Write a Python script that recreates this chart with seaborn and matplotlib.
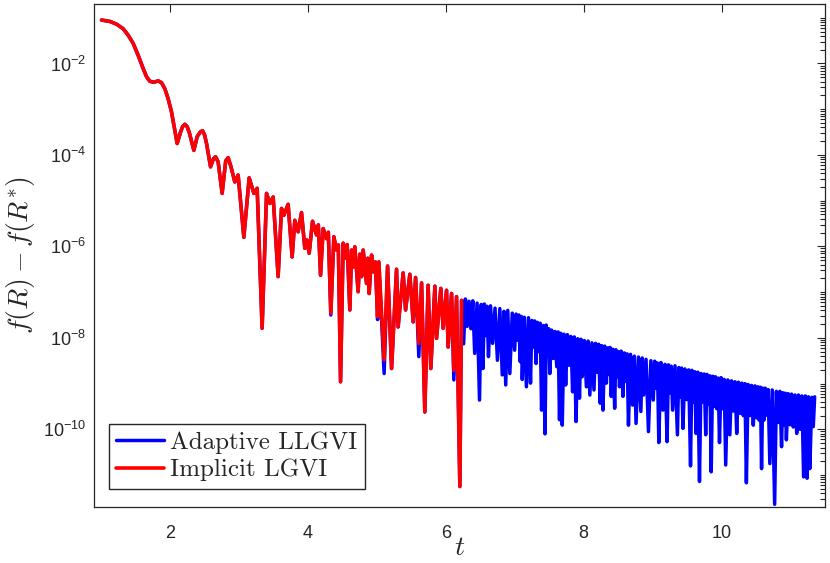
import numpy as np
import pandas as pd
import matplotlib
matplotlib.use("Agg")
import matplotlib.pyplot as plt
import matplotlib.ticker as mticker
import seaborn as sns

# values, stored as log10 of f(R) - f(R*)
# part where both runs are drawn (t <= 6.23)
t_early = [1.009, 1.130, 1.227, 1.323, 1.395, 1.468, 1.540, 1.613, 1.662, 1.710,
           1.768, 1.830, 1.879, 1.927, 1.975, 2.024, 2.072, 2.106, 2.155, 2.185,
           2.217, 2.250, 2.280, 2.348, 2.396, 2.440, 2.474, 2.505, 2.532, 2.590,
           2.630, 2.662, 2.700, 2.758, 2.810, 2.845, 2.885, 2.942,
           2.990, 3.073, 3.150, 3.218, 3.266, 3.338, 3.402, 3.450, 3.498, 3.570,
           3.619, 3.653, 3.715, 3.773, 3.812, 3.860, 3.909, 3.957, 3.986, 4.020,
           4.069, 4.127, 4.153, 4.185, 4.223, 4.272, 4.298, 4.334, 4.378, 4.417,
           4.443, 4.475, 4.513, 4.537, 4.571, 4.610, 4.635, 4.658, 4.682, 4.730,
           4.755, 4.780, 4.803, 4.852, 4.871, 4.890, 4.925, 4.958, 4.980, 5.012,
           5.030, 5.107, 5.157, 5.215, 5.287, 5.310, 5.383, 5.418, 5.480, 5.528,
           5.563, 5.610, 5.650, 5.697, 5.745, 5.784, 5.843, 5.867, 5.929, 5.963,
           6.012, 6.035, 6.085, 6.118, 6.157, 6.205, 6.230]
red_exp = [-1.05, -1.08, -1.14, -1.24, -1.38, -1.56, -1.82, -2.11, -2.29, -2.39,
           -2.41, -2.38, -2.42, -2.55, -2.77, -3.06, -3.46, -3.75, -3.50, -3.38,
           -3.33, -3.38, -3.50, -3.90, -3.60, -3.50, -3.47, -3.57, -3.75, -4.26,
           -4.09, -4.04, -4.15, -4.84, -4.13, -4.06, -4.25, -4.59,
           -4.44, -5.80, -4.50, -4.84, -4.73, -7.79, -4.84, -5.06, -4.92, -6.66,
           -5.17, -5.32, -5.08, -6.23, -5.43, -5.68, -5.26, -6.04, -5.86, -6.15,
           -5.45, -5.75, -5.53, -6.63, -5.61, -5.83, -5.69, -7.46, -5.79, -6.08,
           -5.97, -8.96, -5.93, -6.26, -5.96, -7.39, -6.08, -6.45, -6.01, -6.99,
           -6.17, -6.66, -6.08, -6.81, -6.26, -7.03, -6.19, -6.56, -6.34, -7.54,
           -6.34, -8.48, -6.43, -8.67, -6.50, -7.76, -6.58, -7.39, -6.61, -7.65,
           -6.68, -8.12, -6.80, -9.62, -6.85, -8.67, -6.87, -8.01, -6.92, -7.79,
           -6.96, -8.20, -7.03, -8.71, -7.10, -11.25, -7.18]

# dips where the blue run goes a little lower than the red one
blue_deeper_t = [4.334, 5.012, 5.107, 5.610, 6.118]
blue_deeper_exp = [-7.50, -7.60, -8.78, -8.41, -8.92]

# blue run only, after the red one stops
tail_dip_t = [6.26, 6.31, 6.365, 6.42, 6.49, 6.54, 6.58, 6.62, 6.68, 6.75,
              6.82, 6.87, 6.93, 7.00, 7.04, 7.08, 7.11, 7.17, 7.23, 7.27,
              7.31, 7.35, 7.39, 7.44, 7.475, 7.51, 7.56, 7.61, 7.65, 7.69,
              7.74, 7.79, 7.84, 7.89, 7.94, 7.98, 8.04, 8.09, 8.15, 8.195,
              8.24, 8.28, 8.33, 8.365, 8.40, 8.45, 8.485, 8.52, 8.57, 8.61,
              8.65, 8.71, 8.76, 8.83, 8.87, 8.94, 9.01, 9.05, 9.09, 9.15,
              9.21, 9.25, 9.29, 9.36, 9.40, 9.44, 9.495, 9.55, 9.59, 9.63,
              9.68, 9.725, 9.77, 9.81, 9.85, 9.89, 9.93, 9.97, 10.015, 10.06,
              10.12, 10.17, 10.22, 10.27, 10.315, 10.36, 10.41, 10.46, 10.51, 10.545,
              10.58, 10.615, 10.65, 10.70, 10.77, 10.82, 10.87, 10.905, 10.94, 10.99,
              11.04, 11.09, 11.14, 11.19, 11.24, 11.28, 11.33]
tail_dip_exp = [-8.13, -7.75, -7.80, -8.34, -9.36, -8.67, -7.95, -8.41, -8.12, -8.49,
                -8.81, -9.03, -8.78, -8.27, -8.05, -8.52, -8.91, -9.07, -8.99, -8.20,
                -8.56, -8.30, -9.58, -10.10, -8.40, -8.78, -8.45, -8.63, -9.79, -9.91,
                -9.03, -8.60, -9.18, -9.83, -9.32, -8.85, -9.07, -9.25, -9.14, -8.75,
                -9.43, -9.58, -8.99, -8.80, -9.28, -9.54, -8.85, -9.07, -9.28, -8.95,
                -9.91, -9.47, -9.87, -9.61, -9.25, -10.05, -9.36, -9.10, -10.29, -9.58,
                -10.27, -9.20, -9.58, -10.12, -9.30, -9.98, -9.35, -10.80, -9.40, -10.09,
                -11.14, -9.40, -10.12, -9.45, -10.93, -9.50, -9.55, -10.29, -9.55, -10.78,
                -10.12, -9.60, -10.09, -9.65, -9.70, -11.17, -9.70, -9.91, -9.75, -9.80,
                -10.86, -9.80, -9.69, -10.75, -11.64, -9.85, -10.38, -9.90, -10.23, -9.90,
                -9.95, -10.09, -10.00, -11.04, -11.07, -10.86, -9.94]
tail_peak_t = [6.285, 6.338, 6.393, 6.455, 6.515, 6.56, 6.60, 6.65, 6.715, 6.785,
               6.845, 6.90, 6.965, 7.02, 7.06, 7.095, 7.14, 7.20, 7.25, 7.29,
               7.33, 7.37, 7.415, 7.458, 7.493, 7.535, 7.585, 7.63, 7.67, 7.715,
               7.765, 7.815, 7.865, 7.915, 7.96, 8.01, 8.065, 8.12, 8.172, 8.218,
               8.26, 8.305, 8.348, 8.383, 8.425, 8.468, 8.503, 8.545, 8.59, 8.63,
               8.68, 8.735, 8.795, 8.85, 8.905, 8.975, 9.03, 9.07, 9.12, 9.18,
               9.23, 9.27, 9.325, 9.38, 9.42, 9.468, 9.523, 9.57, 9.61, 9.655,
               9.703, 9.748, 9.79, 9.83, 9.87, 9.91, 9.95, 9.993, 10.038, 10.09,
               10.145, 10.195, 10.245, 10.293, 10.338, 10.385, 10.435, 10.485, 10.528, 10.563,
               10.598, 10.633, 10.675, 10.735, 10.795, 10.845, 10.888, 10.923, 10.965, 11.015,
               11.065, 11.115, 11.165, 11.215, 11.26, 11.31, 11.35]
tail_peak_exp = [-7.15, -7.20, -7.19, -7.24, -7.27, -7.26, -7.31, -7.30, -7.35, -7.36,
                 -7.42, -7.40, -7.46, -7.48, -7.50, -7.53, -7.55, -7.56, -7.62, -7.63,
                 -7.66, -7.68, -7.73, -7.72, -7.80, -7.83, -7.86, -7.87, -7.90, -7.92,
                 -7.93, -7.97, -7.98, -8.02, -8.03, -8.06, -8.07, -8.11, -8.12, -8.14,
                 -8.17, -8.18, -8.22, -8.21, -8.25, -8.26, -8.30, -8.29, -8.33, -8.35,
                 -8.36, -8.40, -8.42, -8.44, -8.47, -8.50, -8.51, -8.55, -8.54, -8.58,
                 -8.59, -8.62, -8.61, -8.65, -8.66, -8.68, -8.70, -8.71, -8.74, -8.75,
                 -8.78, -8.79, -8.80, -8.83, -8.84, -8.85, -8.88, -8.87, -8.91, -8.92,
                 -8.94, -8.96, -8.97, -8.99, -9.00, -9.02, -9.04, -9.05, -9.07, -9.08,
                 -9.10, -9.10, -9.13, -9.14, -9.17, -9.17, -9.20, -9.21, -9.22, -9.23,
                 -9.25, -9.25, -9.27, -9.27, -9.29, -9.30, -9.29]

# build the two series
red = pd.DataFrame({"t": t_early, "val": 10.0 ** np.array(red_exp)})

blue_early_exp = list(red_exp)
for tt, ee in zip(blue_deeper_t, blue_deeper_exp):
    blue_early_exp[t_early.index(tt)] = ee
tail = pd.DataFrame({"t": tail_dip_t + tail_peak_t,
                     "exp": tail_dip_exp + tail_peak_exp}).sort_values("t")
blue = pd.concat([
    pd.DataFrame({"t": t_early, "val": 10.0 ** np.array(blue_early_exp)}),
    pd.DataFrame({"t": tail["t"].values, "val": 10.0 ** tail["exp"].values}),
], ignore_index=True)

sns.set_style("white")
plt.rcParams["font.family"] = ["Liberation Sans", "DejaVu Sans"]
plt.rcParams["mathtext.fontset"] = "cm"

axcol = "#262626"
fig = plt.figure(figsize=(8.3, 5.63), dpi=100)
ax = fig.add_axes([94 / 830, 56 / 563, 731 / 830, 503 / 563])

sns.lineplot(data=blue, x="t", y="val", color="#0000ff", lw=2.5, sort=False,
             estimator=None, label="Adaptive LLGVI", ax=ax)
sns.lineplot(data=red, x="t", y="val", color="#ff0000", lw=2.6, sort=False,
             estimator=None, label="Implicit LGVI", ax=ax)

ax.set_yscale("log")
ax.set_xlim(0.9, 11.5)
ax.set_ylim(2e-12, 0.2)

ax.set_xticks([2, 4, 6, 8, 10])
ax.yaxis.set_major_locator(mticker.FixedLocator([1e-10, 1e-8, 1e-6, 1e-4, 1e-2]))
ax.yaxis.set_major_formatter(mticker.LogFormatterSciNotation())
ax.yaxis.set_minor_locator(mticker.LogLocator(base=10, subs=np.arange(1, 10), numticks=100))
ax.yaxis.set_minor_formatter(mticker.NullFormatter())

ax.tick_params(which="both", direction="in", top=True, right=True,
               color=axcol, labelcolor=axcol, labelsize=13, width=0.8)
ax.tick_params(which="major", length=6)
ax.tick_params(which="minor", length=3.5)
ax.tick_params(axis="x", pad=13)
ax.tick_params(axis="y", pad=6)
for s in ax.spines.values():
    s.set_color(axcol)
    s.set_linewidth(0.9)

ax.set_xlabel("$t$", fontsize=20, labelpad=-5)
ax.set_ylabel("$f(R) - f(R^{*})$", fontsize=20, labelpad=4)

leg = ax.legend(loc="lower left", bbox_to_anchor=(0.0205, 0.0358), borderaxespad=0,
                prop={"family": "cmr10", "size": 18}, frameon=True, fancybox=False,
                edgecolor=axcol, framealpha=1, handlelength=1.9, handletextpad=0.25,
                borderpad=0.3, labelspacing=0.2)
leg.get_frame().set_linewidth(1.0)

fig.savefig("out.png", dpi=100)
